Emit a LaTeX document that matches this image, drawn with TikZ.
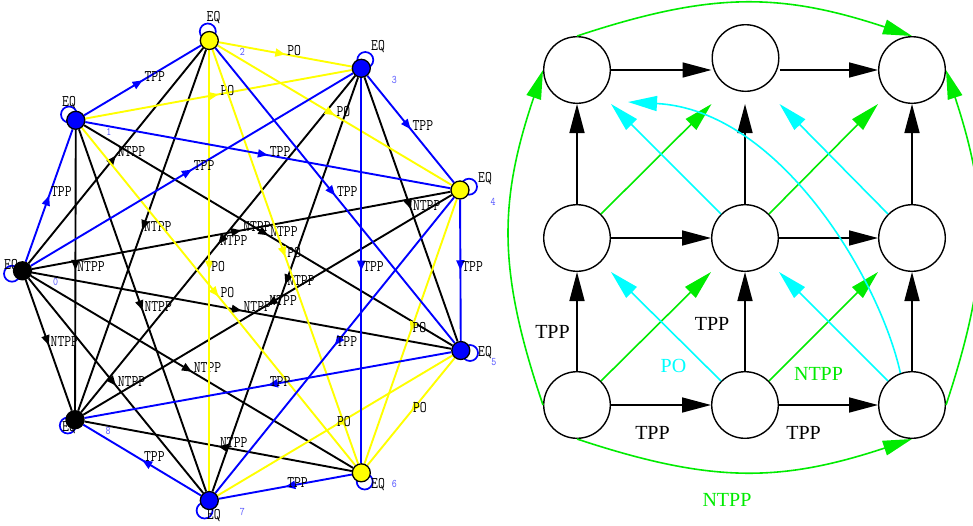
\documentclass[tikz,border=0pt]{standalone}
\usepackage{fontspec}
\setmainfont{Liberation Serif}
\usetikzlibrary{arrows.meta,decorations.markings,calc}
\pgfdeclarelayer{edgelayer}
\pgfsetlayers{edgelayer,main}
\definecolor{pblue}{RGB}{0,0,255}
\definecolor{pyellow}{RGB}{255,255,0}
\definecolor{numblue}{RGB}{85,85,255}
\definecolor{rgreen}{RGB}{0,235,0}
\definecolor{rcyan}{RGB}{0,255,255}
\newcommand{\tallt}[1]{\scalebox{1}[1.22]{#1}}
\tikzset{
  gnode/.style={circle, draw=black, line width=1.3pt, minimum size=18pt, inner sep=0pt},
  bnode/.style={gnode, fill=pblue},
  ynode/.style={gnode, fill=pyellow},
  knode/.style={gnode, fill=black},
  loopc/.style={draw=pblue, line width=1.7pt},
  midarr/.style={postaction={decorate}, decoration={markings, mark=at position 0.5 with {\arrow{Triangle[length=10pt,width=8pt]}}}},
  tppe/.style={color=pblue, line width=1.9pt, midarr},
  poe/.style={color=pyellow, line width=1.9pt, midarr},
  ntppe/.style={color=black, line width=1.9pt, midarr},
  elbl/.style={midway, anchor=base west, inner sep=0pt, xshift=1pt, yshift=-1pt, text=black, font=\ttfamily\fontsize{13.3}{14}\selectfont},
  eqlbl/.style={inner sep=0pt, text=black, font=\ttfamily\fontsize{13.3}{14}\selectfont},
  numlbl/.style={inner sep=0pt, text=numblue, font=\ttfamily\fontsize{9.5}{10}\selectfont},
  rnode/.style={circle, draw=black, line width=1.4pt, minimum size=66.6pt, inner sep=0pt},
  rarr/.style={line width=1.6pt, -{Triangle[length=29pt,width=15pt]}},
  rblack/.style={rarr, color=black},
  rgr/.style={rarr, color=rgreen},
  rcy/.style={rarr, color=rcyan},
  rlbl/.style={inner sep=0pt, font=\fontsize{20}{24}\selectfont},
}
\begin{document}
\begin{tikzpicture}[x=1pt,y=-1pt]
\useasboundingbox (0,0) rectangle (973,525);
% ---------------- left graph nodes
\node[knode] (n0) at (22.5,270.8) {};
\node[bnode] (n1) at (75.8,120.3) {};
\node[ynode] (n2) at (209.3,40.5) {};
\node[bnode] (n3) at (361.3,68.3) {};
\node[ynode] (n4) at (460,190) {};
\node[bnode] (n5) at (460.8,350.5) {};
\node[ynode] (n6) at (361.3,472.8) {};
\node[bnode] (n7) at (209.3,500.5) {};
\node[knode] (n8) at (75,419.7) {};
% number labels
\foreach \i in {0,...,8}{
  \node[numlbl] (num\i) at ([shift={(33,11.5)}]n\i.center) {\tallt{\i}};
}
% EQ labels
\node[eqlbl] (eq0) at ([shift={(-11.5,-4.8)}]n0.center) {\tallt{EQ}};
\node[eqlbl] (eq1) at ([shift={(-6.8,-17.3)}]n1.center) {\tallt{EQ}};
\node[eqlbl] (eq2) at ([shift={(4.2,-22.5)}]n2.center) {\tallt{EQ}};
\node[eqlbl] (eq3) at ([shift={(16.7,-21.3)}]n3.center) {\tallt{EQ}};
\node[eqlbl] (eq4) at ([shift={(25,-11)}]n4.center) {\tallt{EQ}};
\node[eqlbl] (eq5) at ([shift={(24.2,2)}]n5.center) {\tallt{EQ}};
\node[eqlbl] (eq6) at ([shift={(16.7,12.2)}]n6.center) {\tallt{EQ}};
\node[eqlbl] (eq7) at ([shift={(4.5,15.5)}]n7.center) {\tallt{EQ}};
\node[eqlbl] (eq8) at ([shift={(-6,8.3)}]n8.center) {\tallt{EQ}};
\begin{pgfonlayer}{edgelayer}
% loops
\draw[loopc] ([shift={(-10.5,2.9)}]n0.center) circle[radius=8];
\draw[loopc] ([shift={(-6.8,-5.8)}]n1.center) circle[radius=8];
\draw[loopc] ([shift={(-1.5,-9)}]n2.center) circle[radius=8];
\draw[loopc] ([shift={(4,-8.3)}]n3.center) circle[radius=8];
\draw[loopc] ([shift={(9,-3.3)}]n4.center) circle[radius=8];
\draw[loopc] ([shift={(9.2,2.5)}]n5.center) circle[radius=8];
\draw[loopc] ([shift={(3.4,8.7)}]n6.center) circle[radius=8];
\draw[loopc] ([shift={(-4.7,10)}]n7.center) circle[radius=8];
\draw[loopc] ([shift={(-7.2,5.8)}]n8.center) circle[radius=8];
% NTPP
\draw[ntppe] (n0) -- node[elbl]{\tallt{NTPP}} (n2);
\draw[ntppe] (n0) -- node[elbl]{\tallt{NTPP}} (n4);
\draw[ntppe] (n0) -- node[elbl]{\tallt{NTPP}} (n5);
\draw[ntppe] (n0) -- node[elbl]{\tallt{NTPP}} (n6);
\draw[ntppe] (n0) -- node[elbl]{\tallt{NTPP}} (n7);
\draw[ntppe] (n0) -- node[elbl]{\tallt{NTPP}} (n8);
\draw[ntppe] (n1) -- node[elbl]{\tallt{NTPP}} (n5);
\draw[ntppe] (n1) -- node[elbl]{\tallt{NTPP}} (n7);
\draw[ntppe] (n1) -- node[elbl]{\tallt{NTPP}} (n8);
\draw[ntppe] (n2) -- node[elbl]{\tallt{NTPP}} (n8);
\draw[ntppe] (n3) -- node[elbl]{\tallt{NTPP}} (n5);
\draw[ntppe] (n3) -- node[elbl]{\tallt{NTPP}} (n7);
\draw[ntppe] (n3) -- node[elbl]{\tallt{NTPP}} (n8);
\draw[ntppe] (n4) -- node[elbl]{\tallt{NTPP}} (n8);
\draw[ntppe] (n6) -- node[elbl]{\tallt{NTPP}} (n8);
% PO
\draw[poe] (n1) -- node[elbl]{\tallt{PO}} (n3);
\draw[poe] (n1) -- node[elbl]{\tallt{PO}} (n6);
\draw[poe] (n2) -- node[elbl]{\tallt{PO}} (n3);
\draw[poe] (n2) -- node[elbl]{\tallt{PO}} (n4);
\draw[poe] (n2) -- node[elbl]{\tallt{PO}} (n6);
\draw[poe] (n2) -- node[elbl]{\tallt{PO}} (n7);
\draw[poe] (n4) -- node[elbl]{\tallt{PO}} (n6);
\draw[poe] (n5) -- node[elbl]{\tallt{PO}} (n6);
\draw[poe] (n5) -- node[elbl]{\tallt{PO}} (n7);
% TPP
\draw[tppe] (n0) -- node[elbl]{\tallt{TPP}} (n1);
\draw[tppe] (n0) -- node[elbl]{\tallt{TPP}} (n3);
\draw[tppe] (n1) -- node[elbl]{\tallt{TPP}} (n2);
\draw[tppe] (n1) -- node[elbl]{\tallt{TPP}} (n4);
\draw[tppe] (n3) -- node[elbl]{\tallt{TPP}} (n4);
\draw[tppe] (n2) -- node[elbl]{\tallt{TPP}} (n5);
\draw[tppe] (n3) -- node[elbl]{\tallt{TPP}} (n6);
\draw[tppe] (n4) -- node[elbl]{\tallt{TPP}} (n5);
\draw[tppe] (n4) -- node[elbl]{\tallt{TPP}} (n7);
\draw[tppe] (n5) -- node[elbl]{\tallt{TPP}} (n8);
\draw[tppe] (n6) -- node[elbl]{\tallt{TPP}} (n7);
\draw[tppe] (n7) -- node[elbl]{\tallt{TPP}} (n8);
\end{pgfonlayer}
% ---------------- right lattice
\node[rnode] (TL) at (577,70) {};
\node[rnode] (TM) at (745.5,58) {};
\node[rnode] (TR) at (912,70) {};
\node[rnode] (ML) at (577,238) {};
\node[rnode] (MM) at (745,238) {};
\node[rnode] (MR) at (912,238) {};
\node[rnode] (BL) at (577,405) {};
\node[rnode] (BM) at (745,405) {};
\node[rnode] (BR) at (912,405) {};
\coordinate (poend) at (628,102);
% black TPP arrows
\draw[rblack] (TL.east) -- (TL.east -| TM.west);
\draw[rblack] (TM.east |- TR.west) -- (TR.west);
\draw[rblack] (ML.east) -- (MM.west);
\draw[rblack] (MM.east) -- (MR.west);
\draw[rblack] (BL.east) -- (BM.west);
\draw[rblack] (BM.east) -- (BR.west);
\draw[rblack] (ML.north) -- (TL.south);
\draw[rblack] (MM.north) -- (MM.north |- TL.south);
\draw[rblack] (MR.north) -- (TR.south);
\draw[rblack] (BL.north) -- (ML.south);
\draw[rblack] (BM.north) -- (MM.south);
\draw[rblack] (BR.north) -- (MR.south);
% green NTPP diagonals
\draw[rgr] (ML.north east) -- (TM.west |- TL.south);
\draw[rgr] (MM.north east) -- (TR.west |- TL.south);
\draw[rgr] (BL.north east) -- (MM.west |- ML.south);
\draw[rgr] (BM.north east) -- (MR.west |- ML.south);
% cyan PO diagonals
\draw[rcy] (MM.north west) -- (TL.east |- TL.south);
\draw[rcy] (MR.north west) -- (TM.east |- TL.south);
\draw[rcy] (BM.north west) -- (ML.east |- ML.south);
\draw[rcy] (BR.north west) -- (MM.east |- ML.south);
\draw[rcy] (BR.110) .. controls (880,280) and (780,110) .. (poend);
% green arcs
\draw[rgr] (TL.north) .. controls (710,-8) and (779,-8) .. (TR.north);
\draw[rgr] (BL.south) .. controls (710,483) and (779,483) .. (BR.south);
\draw[rgr] (BL.west) .. controls (498,272) and (498,203) .. (TL.west);
\draw[rgr] (BR.east) .. controls (990,272) and (990,203) .. (TR.east);
% labels
\node[rlbl] (l1) at (552.5,331.5) {TPP};
\node[rlbl] (l2) at (712,323.5) {TPP};
\node[rlbl] (l3) at (652.5,432.5) {TPP};
\node[rlbl] (l4) at (803.5,432.5) {TPP};
\node[rlbl, text=rcyan] (l5) at (673.5,365.5) {PO};
\node[rlbl, text=rgreen] (l6) at (818.5,373.5) {NTPP};
\node[rlbl, text=rgreen] (l7) at (727,499.5) {NTPP};
\end{tikzpicture}
\end{document}
